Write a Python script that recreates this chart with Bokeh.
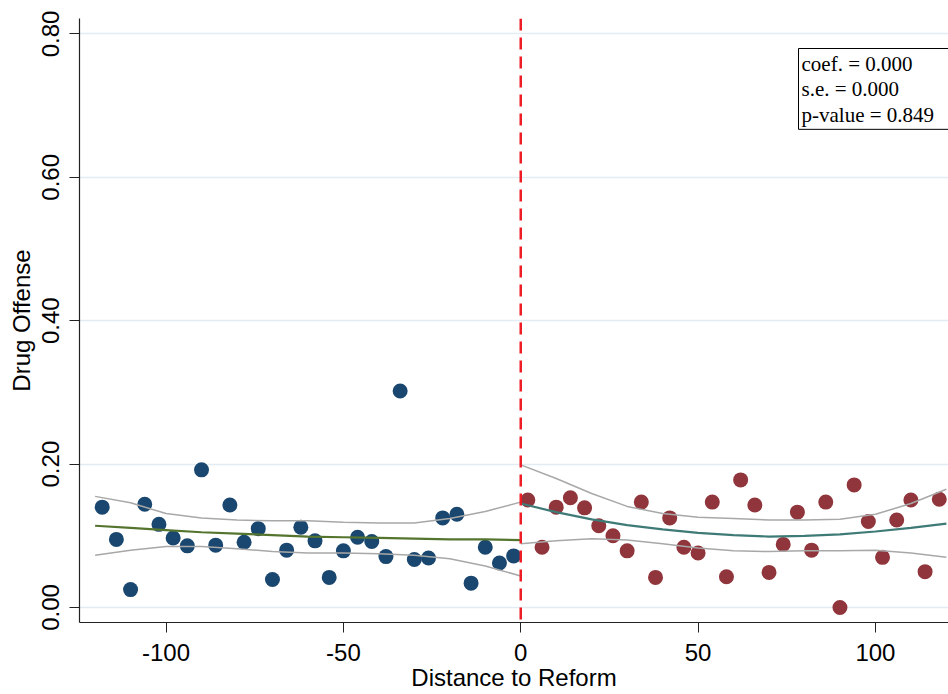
from bokeh.plotting import figure
from bokeh.models import Span, Label, FixedTicker, PrintfTickFormatter, Range1d
from bokeh.embed import file_html
from bokeh.resources import INLINE

# ---- data ----
left_x = [-118, -114, -110, -106, -102, -98, -94, -90, -86, -82, -78, -74, -70, -66, -62,
          -58, -54, -50, -46, -42, -38, -34, -30, -26, -22, -18, -14, -10, -6, -2]
left_y = [0.140, 0.095, 0.025, 0.144, 0.116, 0.097, 0.086, 0.192, 0.087, 0.143, 0.091, 0.110,
          0.039, 0.080, 0.112, 0.093, 0.042, 0.079, 0.098, 0.092, 0.071, 0.302, 0.067, 0.069,
          0.125, 0.130, 0.034, 0.084, 0.062, 0.072]
right_x = [2, 6, 10, 14, 18, 22, 26, 30, 34, 38, 42, 46, 50, 54, 58,
           62, 66, 70, 74, 78, 82, 86, 90, 94, 98, 102, 106, 110, 114, 118]
right_y = [0.150, 0.084, 0.140, 0.153, 0.139, 0.114, 0.100, 0.079, 0.147, 0.042, 0.125, 0.084,
           0.076, 0.147, 0.043, 0.178, 0.143, 0.049, 0.088, 0.133, 0.080, 0.147, 0.000, 0.171,
           0.120, 0.070, 0.122, 0.150, 0.050, 0.151]

fit_left_x = [-120, -110, -100, -90, -80, -70, -60, -50, -40, -30, -20, -10, 0]
fit_left = [0.114, 0.111, 0.108, 0.105, 0.103, 0.101, 0.099, 0.098, 0.097, 0.096, 0.095, 0.095, 0.094]
ci_left_hi = [0.155, 0.146, 0.131, 0.125, 0.122, 0.121, 0.121, 0.119, 0.118, 0.118, 0.124, 0.134, 0.147]
ci_left_lo = [0.073, 0.080, 0.085, 0.085, 0.082, 0.078, 0.076, 0.076, 0.075, 0.073, 0.068, 0.058, 0.044]

fit_right_x = [0, 10, 20, 30, 40, 50, 60, 70, 80, 90, 100, 110, 120]
fit_right = [0.145, 0.133, 0.123, 0.115, 0.109, 0.104, 0.101, 0.099, 0.100, 0.102, 0.106, 0.111, 0.117]
ci_right_hi = [0.199, 0.180, 0.159, 0.141, 0.131, 0.126, 0.124, 0.122, 0.122, 0.123, 0.130, 0.145, 0.165]
ci_right_lo = [0.089, 0.093, 0.096, 0.094, 0.089, 0.083, 0.079, 0.078, 0.079, 0.079, 0.080, 0.076, 0.070]

x_ticks = [-100, -50, 0, 50, 100]
y_ticks = [0.0, 0.2, 0.4, 0.6, 0.8]
stats_text = "coef. = 0.000\ns.e. = 0.000\np-value = 0.849"

FONT = "Liberation Sans"

p = figure(frame_width=869, frame_height=604, output_backend="svg", toolbar_location=None,
           x_range=Range1d(-124.4, 120.6), y_range=Range1d(-0.0209, 0.8215),
           min_border_left=79, min_border_right=0, min_border_top=18, min_border_bottom=72)
p.outline_line_color = None
p.background_fill_color = "white"
p.border_fill_color = "white"

# grid
p.xgrid.grid_line_color = None
p.ygrid.grid_line_color = "#e3ebf3"
p.ygrid.grid_line_width = 1.5
p.ygrid.ticker = FixedTicker(ticks=y_ticks)

# axes
for ax in (p.xaxis[0], p.yaxis[0]):
    ax.axis_line_color = "#222222"
    ax.axis_line_width = 1.2
    ax.major_tick_line_color = "#222222"
    ax.major_tick_in = 0
    ax.major_tick_out = 10
    ax.minor_tick_line_color = None
    ax.major_label_text_font = FONT
    ax.major_label_text_font_size = "24px"
    ax.major_label_text_color = "black"
    ax.axis_label_text_font = FONT
    ax.axis_label_text_font_size = "24px"
    ax.axis_label_text_font_style = "normal"
    ax.axis_label_text_color = "black"

p.xaxis.ticker = FixedTicker(ticks=x_ticks)
p.xaxis.formatter = PrintfTickFormatter(format="%d")
p.xaxis.axis_label = "Distance to Reform"
p.xaxis.major_label_standoff = 11
p.xaxis.axis_label_standoff = 0

p.yaxis.ticker = FixedTicker(ticks=y_ticks)
p.yaxis.formatter = PrintfTickFormatter(format="%.2f")
p.yaxis.axis_label = "Drug Offense"
p.yaxis.major_label_orientation = "vertical"
p.yaxis.major_label_standoff = 10
p.yaxis.axis_label_standoff = 5

# points
p.scatter(left_x, left_y, size=15, fill_color="#1a476f", line_color=None)
p.scatter(right_x, right_y, size=15, fill_color="#90353b", line_color=None)

# CI and fit lines
p.line(fit_left_x, ci_left_hi, line_color="#a8a8a8", line_width=1.5)
p.line(fit_left_x, ci_left_lo, line_color="#a8a8a8", line_width=1.5)
p.line(fit_right_x, ci_right_hi, line_color="#a8a8a8", line_width=1.5)
p.line(fit_right_x, ci_right_lo, line_color="#a8a8a8", line_width=1.5)
p.line(fit_left_x, fit_left, line_color="#55752f", line_width=2.2)
p.line(fit_right_x, fit_right, line_color="#3e7a76", line_width=2.2)

# threshold
p.add_layout(Span(location=0, dimension="height", line_color="#ee1c25",
                  line_width=2.5, line_dash="12 7"))

# stats box
p.add_layout(Label(x=719, y=574, x_units="screen", y_units="screen", text=stats_text,
                   text_font="Liberation Serif", text_font_size="21px", text_color="black",
                   text_align="left", text_baseline="top", text_line_height=1.08,
                   border_line_color="black", border_line_width=1,
                   background_fill_color="white", padding=(3, 15, 3, 2)))

open("out.html", "w").write(file_html(p, INLINE))
